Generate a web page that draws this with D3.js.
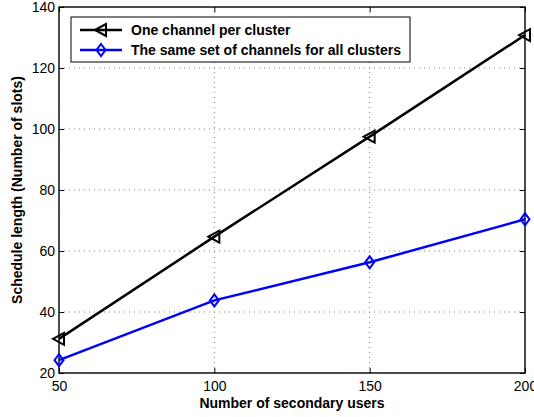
<!doctype html>
<html>
<head>
<meta charset="utf-8">
<script src="https://cdn.jsdelivr.net/npm/d3@7"></script>
<style>
  body { margin: 0; background: #fff; }
  text { font-family: "Liberation Sans", Arial, sans-serif; }
</style>
</head>
<body>
<div id="chart"></div>
<script>
  // data
  const users = [50, 100, 150, 200];
  const onePerCluster = [31.2, 64.7, 97.5, 130.8];
  const sameSet = [24.2, 43.8, 56.3, 70.4];
  const seriesNames = ['One channel per cluster', 'The same set of channels for all clusters'];
  const xTicks = [50, 100, 150, 200];
  const yTicks = [20, 40, 60, 80, 100, 120, 140];

  const width = 534, height = 417;
  const margin = {top: 7, right: 9, bottom: 44, left: 59};
  const w = width - margin.left - margin.right,
    h = height - margin.top - margin.bottom;

  const svg = d3.select('#chart').append('svg')
    .attr('width', width)
    .attr('height', height);

  const g = svg.append('g')
    .attr('transform', `translate(${margin.left},${margin.top})`);

  const x = d3.scaleLinear().domain([50, 200]).range([0, w]);
  const y = d3.scaleLinear().domain([20, 140]).range([h, 0]);

  // dotted grid
  g.append('g').selectAll('line')
    .data(xTicks.slice(1, -1))
    .join('line')
    .attr('x1', d => x(d)).attr('x2', d => x(d))
    .attr('y1', 0).attr('y2', h)
    .attr('stroke', '#666').attr('stroke-width', 0.8)
    .attr('stroke-dasharray', '1,4');

  g.append('g').selectAll('line')
    .data(yTicks.slice(1, -1))
    .join('line')
    .attr('x1', 0).attr('x2', w)
    .attr('y1', d => y(d)).attr('y2', d => y(d))
    .attr('stroke', '#666').attr('stroke-width', 0.8)
    .attr('stroke-dasharray', '1,4');

  // axes
  g.append('g')
    .attr('transform', `translate(0,${h})`)
    .call(d3.axisBottom(x).tickValues(xTicks).tickSize(-5).tickPadding(8).tickFormat(d3.format('d')));
  g.append('g')
    .call(d3.axisLeft(y).tickValues(yTicks).tickSize(-5).tickPadding(4).tickFormat(d3.format('d')));
  // mirrored ticks on top/right
  g.append('g')
    .call(d3.axisTop(x).tickValues(xTicks).tickSize(-5).tickFormat(''));
  g.append('g')
    .attr('transform', `translate(${w},0)`)
    .call(d3.axisRight(y).tickValues(yTicks).tickSize(-5).tickFormat(''));

  g.selectAll('.domain').remove();
  g.selectAll('.tick line').attr('stroke', '#000').attr('stroke-width', 1);
  g.selectAll('.tick text').attr('fill', '#000').style('font-size', '14px');

  g.append('rect')
    .attr('width', w).attr('height', h)
    .attr('fill', 'none').attr('stroke', '#000').attr('stroke-width', 1.4);

  // lines
  const line = d3.line()
    .x((d, i) => x(users[i]))
    .y(d => y(d));

  const triangle = 'M-6,0L5,-6L5,6Z';
  const diamond = 'M0,-6L4.5,0L0,6L-4.5,0Z';

  function drawSeries(vals, color, shape) {
    g.append('path')
      .datum(vals)
      .attr('d', line)
      .attr('fill', 'none')
      .attr('stroke', color)
      .attr('stroke-width', 2.5);
    g.append('g').selectAll('path')
      .data(vals)
      .join('path')
      .attr('transform', (d, i) => `translate(${x(users[i])},${y(d)})`)
      .attr('d', shape)
      .attr('fill', 'none')
      .attr('stroke', color)
      .attr('stroke-width', 2);
  }

  drawSeries(onePerCluster, '#000', triangle);
  drawSeries(sameSet, '#0000ff', diamond);

  // legend
  const legend = g.append('g').attr('transform', 'translate(12,10)');
  legend.append('rect')
    .attr('width', 339).attr('height', 45)
    .attr('fill', '#fff').attr('stroke', '#000').attr('stroke-width', 1);

  const legendItems = [
    {name: seriesNames[0], color: '#000', shape: triangle},
    {name: seriesNames[1], color: '#0000ff', shape: diamond}
  ];
  const item = legend.selectAll('.item')
    .data(legendItems)
    .join('g')
    .attr('transform', (d, i) => `translate(0,${13 + i * 20})`);
  item.append('line')
    .attr('x1', 9).attr('x2', 51)
    .attr('stroke', d => d.color).attr('stroke-width', 2.5);
  item.append('path')
    .attr('transform', 'translate(30,0)')
    .attr('d', d => d.shape)
    .attr('fill', 'none')
    .attr('stroke', d => d.color)
    .attr('stroke-width', 2);
  item.append('text')
    .attr('x', 60).attr('dy', '0.35em')
    .style('font-size', '14px').style('font-weight', 'bold')
    .text(d => d.name);

  // axis labels
  svg.append('text')
    .attr('x', margin.left + w / 2).attr('y', 408)
    .attr('text-anchor', 'middle')
    .style('font-size', '14px').style('font-weight', 'bold')
    .text('Number of secondary users');

  svg.append('text')
    .attr('transform', `translate(22,${margin.top + h / 2}) rotate(-90)`)
    .attr('text-anchor', 'middle')
    .style('font-size', '14px').style('font-weight', 'bold')
    .text('Schedule length (Number of slots)');
</script>
</body>
</html>
